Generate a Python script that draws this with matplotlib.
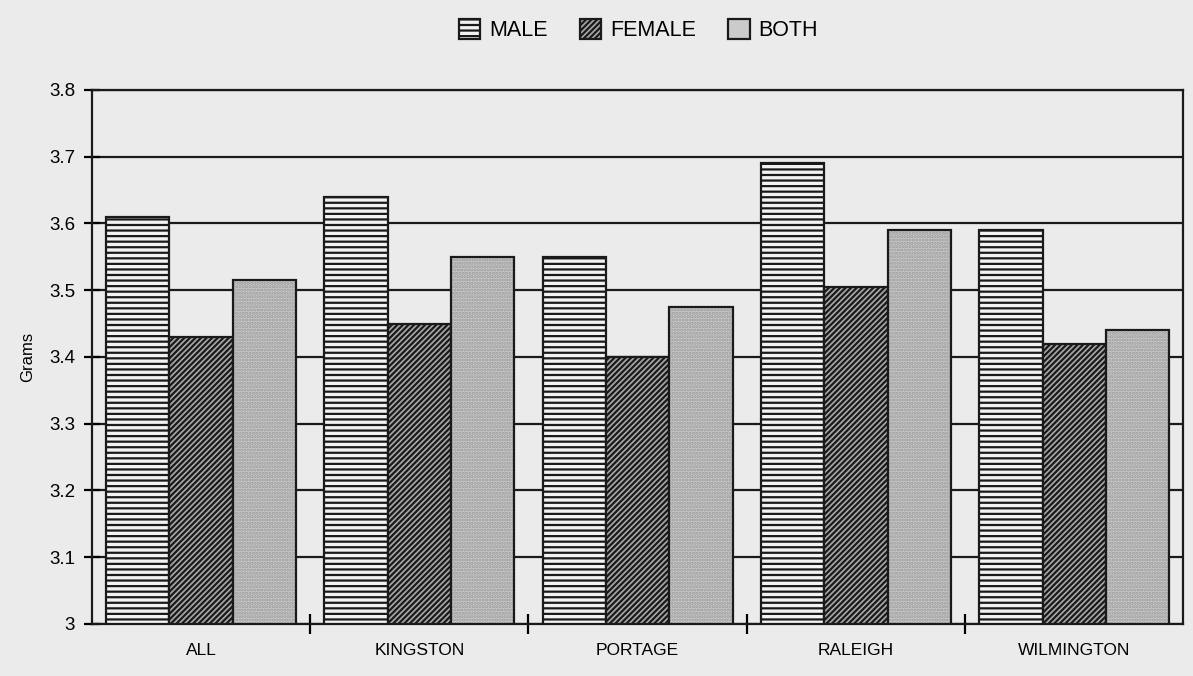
import matplotlib.pyplot as plt
from matplotlib.patches import Patch
import numpy as np

plt.rcParams['font.family'] = ['Liberation Sans', 'DejaVu Sans']
plt.rcParams['hatch.linewidth'] = 1.6

cities = ['ALL', 'KINGSTON', 'PORTAGE', 'RALEIGH', 'WILMINGTON']
male = [3.61, 3.64, 3.55, 3.69, 3.59]
female = [3.43, 3.45, 3.40, 3.505, 3.42]
both = [3.515, 3.55, 3.475, 3.59, 3.44]

bg = '#ebebeb'
dark = '#1a1a1a'
fig, ax = plt.subplots(figsize=(11.93, 6.76), dpi=100)
fig.patch.set_facecolor(bg)
ax.set_facecolor(bg)

x = np.arange(len(cities))
w = 0.29
kw = dict(width=w, bottom=3.0, edgecolor=dark, linewidth=1.6, zorder=3)
ax.bar(x - w, np.array(male) - 3.0, facecolor='#f2f2f2', hatch='---', **kw)
ax.bar(x, np.array(female) - 3.0, facecolor='#a8a8a8', hatch='//////', **kw)
# light stipple for BOTH, then a dark outline on top
ax.bar(x + w, np.array(both) - 3.0, width=w, bottom=3.0, facecolor='#cbcbcb',
       hatch='.....', edgecolor='#9a9a9a', linewidth=0, zorder=3)
ax.bar(x + w, np.array(both) - 3.0, width=w, bottom=3.0, fill=False,
       edgecolor=dark, linewidth=1.6, zorder=4)

ax.set_ylim(3.0, 3.8)
ax.set_xlim(-0.5, len(cities) - 0.5)
yt = np.round(np.arange(3.0, 3.81, 0.1), 1)
ax.set_yticks(yt)
ax.set_yticklabels(['3'] + [f'{v:.1f}' for v in yt[1:]], fontsize=13.5)
ax.set_xticks(np.arange(len(cities) - 1) + 0.5)
ax.set_xticklabels([])
ax.set_xticks(x, minor=True)
ax.set_xticklabels(cities, minor=True, fontsize=12.5)
ax.tick_params(axis='x', which='minor', length=0, pad=14)
ax.tick_params(axis='x', which='major', direction='inout', length=14, width=1.6)
ax.tick_params(axis='y', direction='inout', length=12, width=1.6, pad=6)

ax.yaxis.grid(True, color=dark, linewidth=1.6, zorder=1)
for s in ax.spines.values():
    s.set_linewidth(1.6)
    s.set_color(dark)

ax.set_ylabel('Grams', fontsize=12, labelpad=10)

handles = [Patch(facecolor='#f2f2f2', edgecolor=dark, hatch='---', linewidth=1.6),
           Patch(facecolor='#a8a8a8', edgecolor=dark, hatch='//////', linewidth=1.6),
           Patch(facecolor='#cbcbcb', edgecolor=dark, linewidth=1.6)]
fig.legend(handles, ['MALE', 'FEMALE', 'BOTH'], loc='upper center', ncol=3,
           bbox_to_anchor=(0.535, 1.0), frameon=False, fontsize=15.5,
           handlelength=1.0, handleheight=1.0, columnspacing=1.5, handletextpad=0.4)

fig.subplots_adjust(left=0.077, right=0.992, top=0.867, bottom=0.077)
fig.savefig('out.png', dpi=100, facecolor=bg)
